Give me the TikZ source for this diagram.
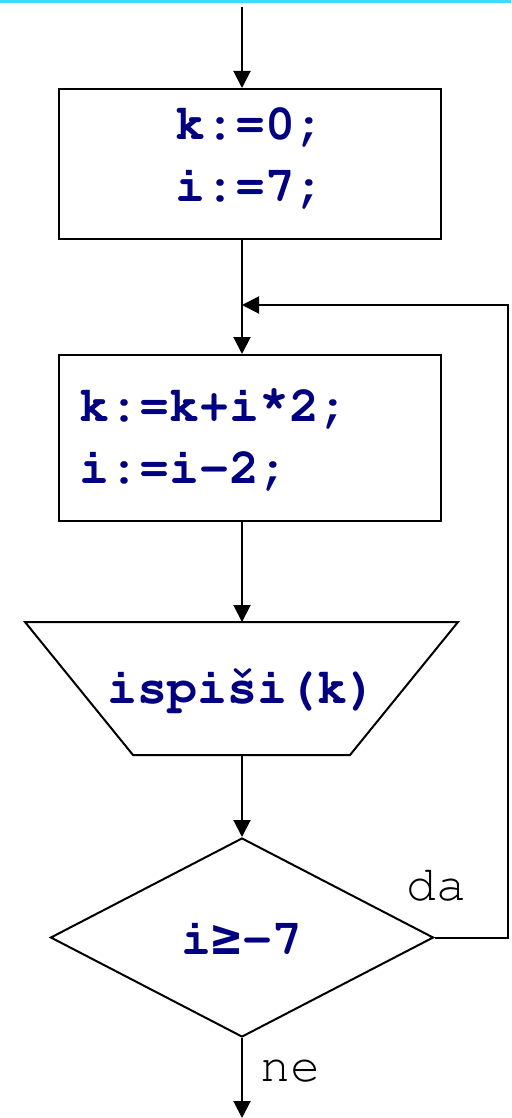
\documentclass[tikz,border=0pt]{standalone}
\usepackage[T1]{fontenc}
\usepackage{fontspec}
\newfontfamily\geqfont{DejaVu Sans Mono}
\usepackage{tikz}
\usetikzlibrary{shapes.geometric, arrows.meta, positioning}
\definecolor{codenavy}{RGB}{0, 0, 128}
\definecolor{topcyan}{RGB}{56, 222, 250}
\newcommand{\courfont}{\fontencoding{T1}\fontfamily{pcr}\fontsize{25}{31}\selectfont}

\begin{document}
\begin{tikzpicture}[
    x=0.5pt, y=-0.5pt,
    line width=1pt,
    stmt/.style={rectangle, draw, minimum width=191pt, text=codenavy, font=\courfont\bfseries},
    outtext/.style={inner sep=0pt, text=codenavy, font=\courfont\bfseries},
    testbox/.style={diamond, draw, minimum width=191.5pt, minimum height=99.5pt, inner sep=0pt, text=codenavy, font=\courfont\bfseries},
    flow/.style={-{Triangle[length=8.5pt, width=8.5pt]}},
    lbl/.style={font=\courfont}
]
\useasboundingbox (0,0) rectangle (511,1118);

% top rule
\draw[topcyan, line width=1.5pt] (0,1.5) -- (511,1.5);

% Flowchart blocks
\coordinate (top) at (242,7);
\node[stmt, minimum height=75pt, align=center] (init) at (250,164) {k:=0;\\i:=7;\rule[-9pt]{0pt}{9pt}};
\node[stmt, minimum height=83pt, inner xsep=10pt, text width=171pt, align=left] (body) at (250,438) {k:=k+i\raisebox{0.18em}{*}2;\\i:=i-2;};

% output block (trapezoid)
\draw (25,622) -- (458,622) -- (350,755) -- (133,755) -- cycle;
\coordinate (outtop) at (242,622);
\coordinate (outbot) at (242,755);
\node[outtext] (out) at (242,690) {ispi\v{s}i(k)};

\node[testbox] (cond) at (242,937.5) {i{\geqfont\fontsize{25}{31}\selectfont\bfseries ≥}-7};
\coordinate (loop) at (508,305);
\coordinate (end) at (242,1118);

% Labels
\node[lbl] (yes) at (436,884.5) {da};
\node[lbl] (no) at (290,1071) {ne};

% Connectors
\draw[flow] (top) -- (init.north -| top);
\draw[flow] (init.south -| top) -- (body.north -| top);
\draw[flow] (body.south -| top) -- (outtop);
\draw[flow] (outbot) -- (cond.north);
\draw[flow] (cond.south) -- (end);
\draw[flow] (cond.east) -- (cond.east -| loop) -- (loop) -- (loop -| top);
\end{tikzpicture}
\end{document}
